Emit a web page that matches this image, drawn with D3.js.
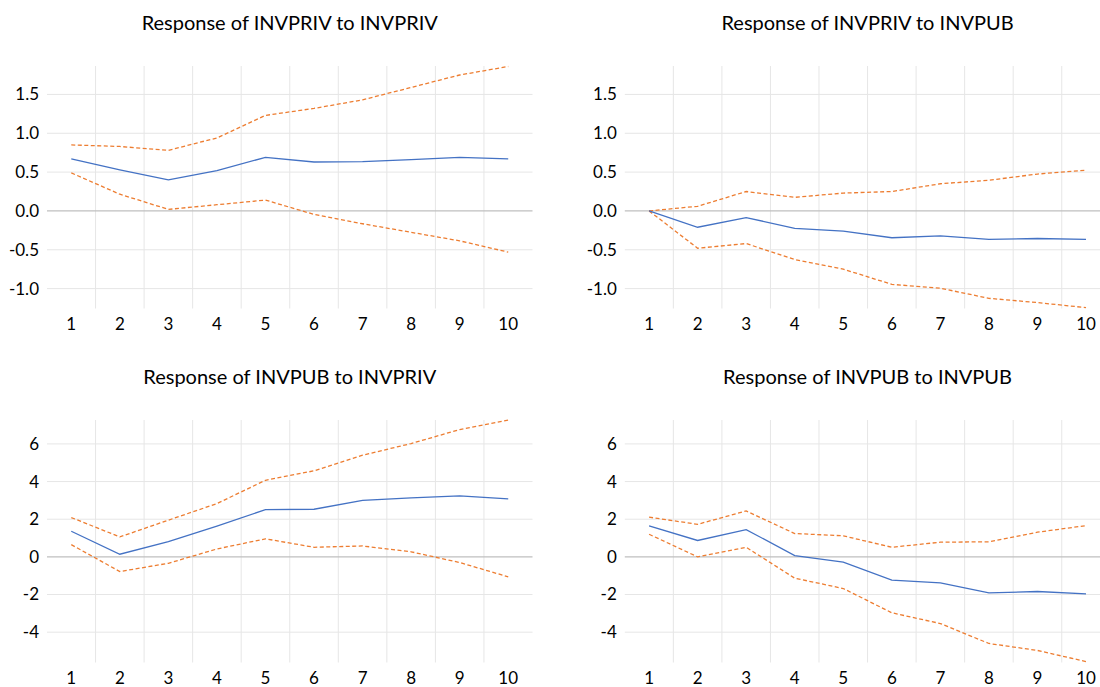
<!DOCTYPE html>
<html>
<head>
<meta charset="utf-8">
<script src="https://cdn.jsdelivr.net/npm/d3@7"></script>
<style>
  body { margin: 0; background: #fff; }
  svg text { font-family: Lato, "Noto Sans", sans-serif; fill: #000; }
  .title { font-size: 20px; }
  .tick-label { font-size: 17px; }
</style>
</head>
<body>
<svg id="chart" width="1100" height="687"></svg>
<script>
// periodos
const periods = [1, 2, 3, 4, 5, 6, 7, 8, 9, 10];

// Response of INVPRIV to INVPRIV
const privPrivResp = [0.67, 0.53, 0.40, 0.52, 0.69, 0.63, 0.635, 0.66, 0.69, 0.67];
const privPrivHi = [0.85, 0.83, 0.78, 0.94, 1.23, 1.32, 1.43, 1.59, 1.75, 1.86];
const privPrivLo = [0.49, 0.215, 0.02, 0.08, 0.14, -0.045, -0.165, -0.275, -0.385, -0.53];

// Response of INVPRIV to INVPUB
const privPubResp = [0, -0.21, -0.085, -0.225, -0.26, -0.345, -0.32, -0.365, -0.355, -0.365];
const privPubHi = [0, 0.06, 0.25, 0.175, 0.23, 0.25, 0.35, 0.395, 0.475, 0.525];
const privPubLo = [0, -0.48, -0.42, -0.625, -0.75, -0.945, -0.995, -1.125, -1.18, -1.245];

// Response of INVPUB to INVPRIV
const pubPrivResp = [1.36, 0.14, 0.81, 1.63, 2.51, 2.53, 3.0, 3.13, 3.24, 3.08];
const pubPrivHi = [2.09, 1.06, 1.95, 2.83, 4.07, 4.57, 5.4, 6.02, 6.76, 7.26];
const pubPrivLo = [0.65, -0.78, -0.34, 0.42, 0.96, 0.51, 0.58, 0.27, -0.3, -1.06];

// Response of INVPUB to INVPUB
const pubPubResp = [1.65, 0.87, 1.45, 0.07, -0.28, -1.24, -1.38, -1.91, -1.84, -1.96];
const pubPubHi = [2.11, 1.73, 2.44, 1.24, 1.12, 0.51, 0.78, 0.8, 1.31, 1.66];
const pubPubLo = [1.2, 0.0, 0.51, -1.13, -1.68, -2.97, -3.54, -4.6, -4.97, -5.56];

const topTicks = [-1.0, -0.5, 0.0, 0.5, 1.0, 1.5];
const bottomTicks = [-4, -2, 0, 2, 4, 6];

// guion simple como en Excel
const fmt1 = (d) => d3.format(".1f")(d).replace("\u2212", "-");
const fmt0 = (d) => d3.format("d")(d).replace("\u2212", "-");

const panels = [
  { title: "Response of INVPRIV to INVPRIV", resp: privPrivResp, hi: privPrivHi, lo: privPrivLo,
    ticks: topTicks, fmt: fmt1, domain: [-1.256, 1.866], left: 47, top: 66 },
  { title: "Response of INVPRIV to INVPUB", resp: privPubResp, hi: privPubHi, lo: privPubLo,
    ticks: topTicks, fmt: fmt1, domain: [-1.256, 1.866], left: 624.8, top: 66 },
  { title: "Response of INVPUB to INVPRIV", resp: pubPrivResp, hi: pubPrivHi, lo: pubPrivLo,
    ticks: bottomTicks, fmt: fmt0, domain: [-5.61, 7.27], left: 47, top: 420 },
  { title: "Response of INVPUB to INVPUB", resp: pubPubResp, hi: pubPubHi, lo: pubPubLo,
    ticks: bottomTicks, fmt: fmt0, domain: [-5.61, 7.27], left: 624.8, top: 420 },
];

const plotW = 485.5;
const plotH = 242.5;

const svg = d3.select("#chart");

panels.forEach((p) => {
  const g = svg.append("g").attr("transform", `translate(${p.left},${p.top})`);

  const x = d3.scaleBand().domain(periods).range([0, plotW]).padding(0);
  const y = d3.scaleLinear().domain(p.domain).range([plotH, 0]);
  const cx = (i) => x(periods[i]) + x.bandwidth() / 2;

  // lineas verticales entre categorias
  g.selectAll(".vgrid")
    .data(periods.slice(1))
    .enter()
    .append("line")
    .attr("x1", (d) => x(d))
    .attr("x2", (d) => x(d))
    .attr("y1", 0)
    .attr("y2", plotH)
    .attr("stroke", "#e6e6e6")
    .attr("stroke-width", 1);

  // lineas horizontales
  g.selectAll(".hgrid")
    .data(p.ticks.filter((d) => d !== 0))
    .enter()
    .append("line")
    .attr("x1", 0)
    .attr("x2", plotW)
    .attr("y1", (d) => y(d))
    .attr("y2", (d) => y(d))
    .attr("stroke", "#e6e6e6")
    .attr("stroke-width", 1);

  // eje en cero
  g.append("line")
    .attr("x1", 0)
    .attr("x2", plotW)
    .attr("y1", y(0))
    .attr("y2", y(0))
    .attr("stroke", "#bfbfbf")
    .attr("stroke-width", 1.3);

  // etiquetas eje y
  g.selectAll(".ylab")
    .data(p.ticks)
    .enter()
    .append("text")
    .attr("class", "tick-label")
    .attr("x", -8)
    .attr("y", (d) => y(d))
    .attr("dy", "0.35em")
    .attr("text-anchor", "end")
    .text((d) => p.fmt(d));

  // etiquetas eje x
  g.selectAll(".xlab")
    .data(periods)
    .enter()
    .append("text")
    .attr("class", "tick-label")
    .attr("x", (d) => x(d) + x.bandwidth() / 2)
    .attr("y", plotH + 16)
    .attr("dy", "0.35em")
    .attr("text-anchor", "middle")
    .text((d) => d);

  // titulo
  g.append("text")
    .attr("class", "title")
    .attr("x", plotW / 2)
    .attr("y", -43)
    .attr("dy", "0.35em")
    .attr("text-anchor", "middle")
    .text(p.title);

  const line = d3
    .line()
    .x((d, i) => cx(i))
    .y((d) => y(d));

  g.append("path")
    .datum(p.hi)
    .attr("d", line)
    .attr("fill", "none")
    .attr("stroke", "#ed7d31")
    .attr("stroke-width", 1.3)
    .attr("stroke-dasharray", "4,2.5");

  g.append("path")
    .datum(p.lo)
    .attr("d", line)
    .attr("fill", "none")
    .attr("stroke", "#ed7d31")
    .attr("stroke-width", 1.3)
    .attr("stroke-dasharray", "4,2.5");

  g.append("path")
    .datum(p.resp)
    .attr("d", line)
    .attr("fill", "none")
    .attr("stroke", "#4472c4")
    .attr("stroke-width", 1.3);
});
</script>
</body>
</html>
